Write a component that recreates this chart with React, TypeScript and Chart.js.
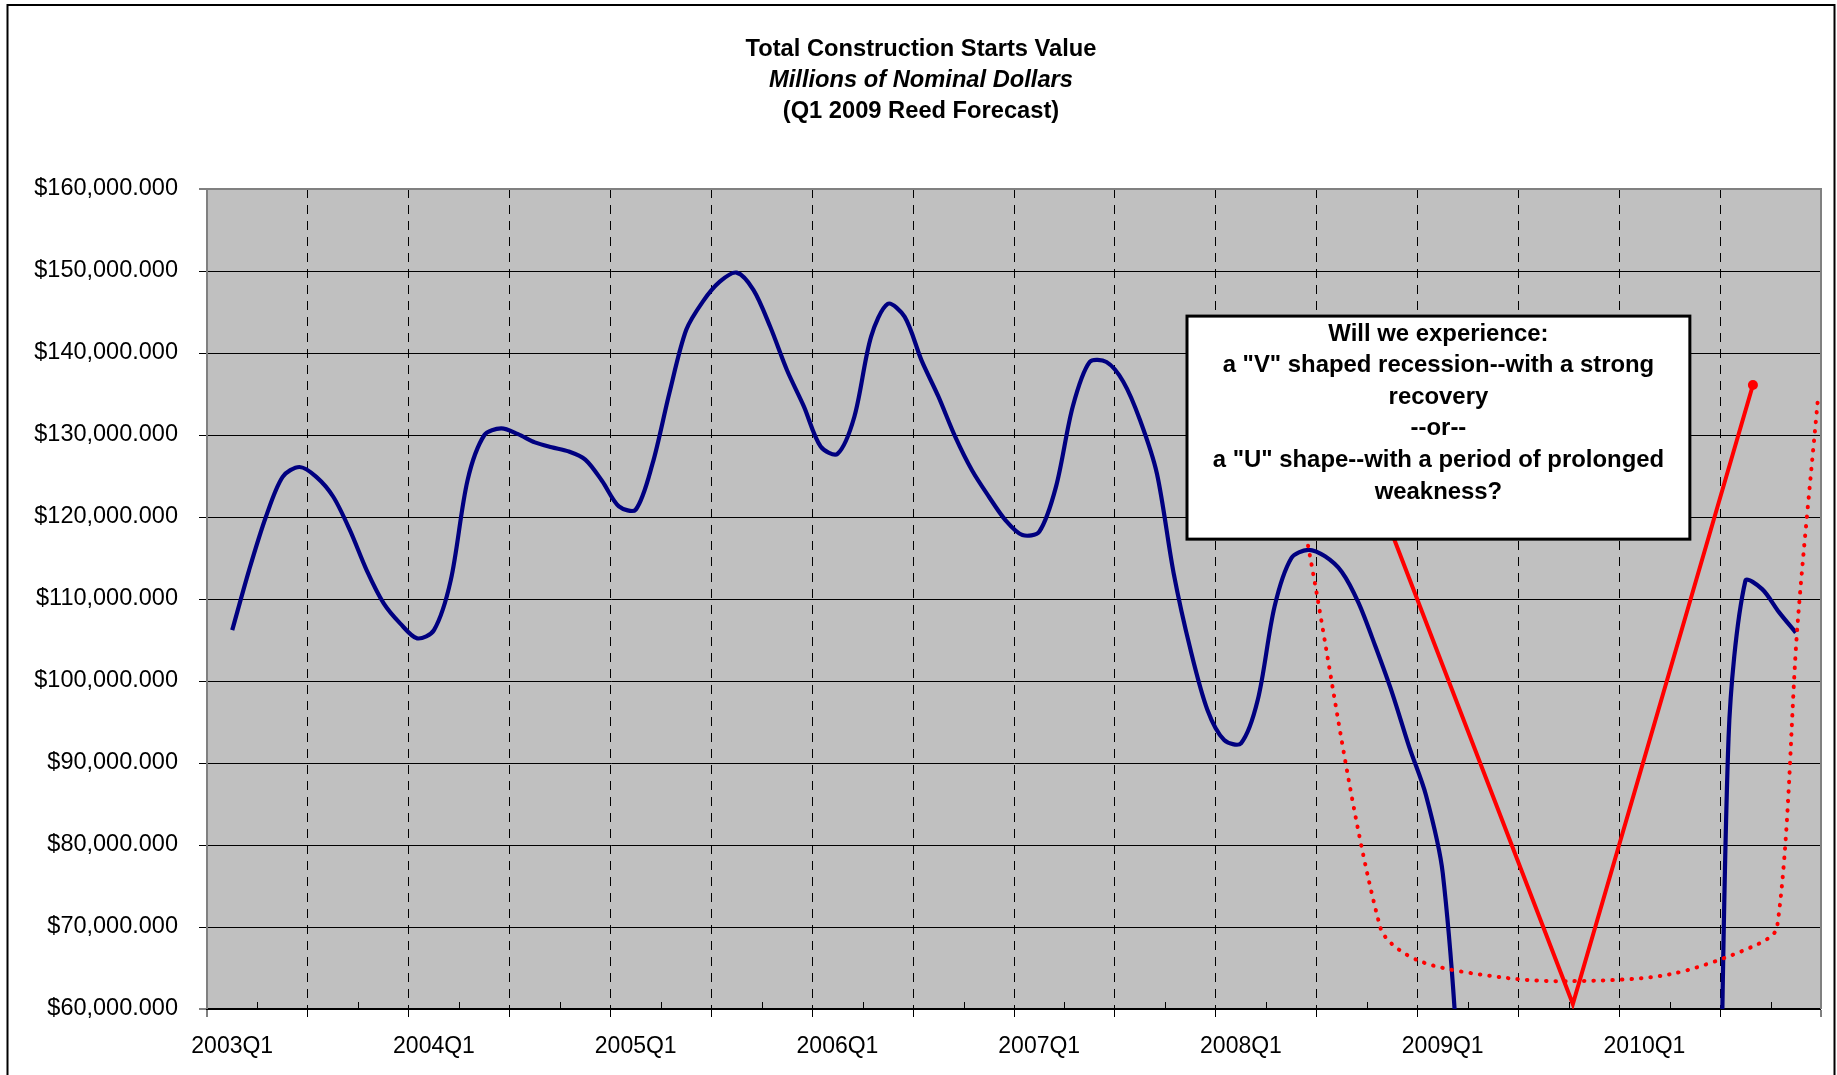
import React, { useEffect, useRef } from 'react';
import { Chart, registerables } from 'chart.js';

Chart.register(...registerables);

const FONT = "'Liberation Sans', Arial, Helvetica, sans-serif";

// ---- text ----
const titleLines = [
  'Total Construction Starts Value',
  'Millions of Nominal Dollars',
  '(Q1 2009 Reed Forecast)',
];
const noteLines = [
  'Will we experience:',
  'a "V" shaped recession--with a strong',
  'recovery',
  '--or--',
  'a "U" shape--with a period of prolonged',
  'weakness?',
];

// ---- x axis: quarters (32 quarter slots, 2003Q1 .. 2010Q4) ----
const quarterLabels = ['2003Q1', '2004Q1', '2005Q1', '2006Q1', '2007Q1', '2008Q1', '2009Q1', '2010Q1'];
const quarterCount = 32;

// ---- y axis (millions of nominal dollars) ----
const yMin = 60000;
const yMax = 160000;
const yStep = 10000;

// ---- monthly total construction starts value, Jan 2003 .. Oct 2010 (millions) ----
// months with no reported value (forecast gap) plunge below the axis floor
const blueValues = [
  106200, 113500, 120000, 124900, 126100, 124900, 122500, 118400, 113500, 109500, 107000, 105200,
  106200, 112300, 124500, 130000, 130800, 130100, 129100, 128500, 128000, 127000, 124400, 121300,
  120900, 126500, 135100, 142800, 146300, 148700, 149800, 147700, 143200, 137900, 133500, 128600,
  127700, 132200, 142000, 146000, 144400, 139100, 134700, 129800, 125700, 122500, 119600, 117800,
  118200, 123700, 133500, 138900, 138900, 136500, 131800, 125300, 113100, 103800, 96500, 92800,
  92400, 97700, 109100, 115000, 116000, 115200, 113300, 109500, 104200, 98500, 92000, 86100,
  76600, 50000, 0, 0, 0, 0, 0, 0, 0, 0, 0, 0, 0, 0, 0, 0,
  0, 93000, 112200, 111200, 108400, 105900,
];

// ---- "V" scenario (red solid), x in quarter units ----
const vShapeX = [22.0, 27.08, 30.65];
const vShapeY = [141900, 60600, 136100];

// ---- "U" scenario (red dotted), x in quarter units ----
const uShapeX = [21.83, 23.26, 24.02, 25.75, 27.08, 28.98, 30.64, 31.13, 31.54, 31.94];
const uShapeY = [116500, 70000, 65900, 63800, 63400, 64200, 67600, 70000, 107300, 134500];

// ---- annotation box corners in data units ----
const noteBox = { x0: 19.43, x1: 29.4, yTop: 144500, yBottom: 117300 };

function fmtMoney(v: number): string {
  const s = Math.round(v).toString().replace(/\B(?=(\d{3})+(?!\d))/g, ',');
  return '$' + s + '.000';
}

export default function App() {
  const ref = useRef<HTMLCanvasElement>(null);

  useEffect(() => {
    document.body.style.margin = '0';
    document.body.style.overflow = 'hidden';
    const canvas = ref.current;
    if (!canvas) return;

    const labelPos = quarterLabels.map((_, i) => 0.5 + 4 * i);
    const isEvenInt = (v: number) => Number.isInteger(v) && v % 2 === 0;

    const blueData = blueValues.map((v, m) => ({ x: 0.5 + m / 3, y: v }));
    const vData = vShapeX.map((x, i) => ({ x, y: vShapeY[i] }));
    const uData = uShapeX.map((x, i) => ({ x, y: uShapeY[i] }));

    const decor = {
      id: 'decor',
      beforeDraw(chart: any) {
        const { ctx, chartArea: a } = chart;
        ctx.save();
        ctx.fillStyle = '#ffffff';
        ctx.fillRect(0, 0, chart.width, chart.height);
        ctx.fillStyle = '#C0C0C0';
        ctx.fillRect(a.left, a.top, a.right - a.left, a.bottom - a.top);
        ctx.restore();
      },
      beforeDatasetsDraw(chart: any) {
        const { ctx, chartArea: a, scales } = chart;
        const x = scales.x;
        ctx.save();
        // minor (inside) tick marks at odd quarter boundaries
        ctx.strokeStyle = '#000';
        ctx.lineWidth = 1;
        for (let q = 1; q < quarterCount; q += 2) {
          const px = Math.round(x.getPixelForValue(q)) + 0.5;
          ctx.beginPath();
          ctx.moveTo(px, a.bottom);
          ctx.lineTo(px, a.bottom - 7);
          ctx.stroke();
        }
        // plot area border (top / right)
        ctx.strokeStyle = '#808080';
        ctx.lineWidth = 2;
        ctx.beginPath();
        ctx.moveTo(a.left, a.top);
        ctx.lineTo(a.right, a.top);
        ctx.lineTo(a.right, a.bottom);
        ctx.stroke();
        ctx.restore();
      },
      afterDraw(chart: any) {
        const { ctx, scales } = chart;
        const x = scales.x;
        const y = scales.y;
        ctx.save();
        // titles
        const cx = 921;
        ctx.fillStyle = '#000';
        ctx.textAlign = 'center';
        ctx.textBaseline = 'middle';
        ctx.font = `bold 23.7px ${FONT}`;
        ctx.fillText(titleLines[0], cx, 49);
        ctx.font = `italic bold 23.7px ${FONT}`;
        ctx.fillText(titleLines[1], cx, 80);
        ctx.font = `bold 23.7px ${FONT}`;
        ctx.fillText(titleLines[2], cx, 111);

        // annotation box
        const bx0 = x.getPixelForValue(noteBox.x0);
        const bx1 = x.getPixelForValue(noteBox.x1);
        const by0 = y.getPixelForValue(noteBox.yTop);
        const by1 = y.getPixelForValue(noteBox.yBottom);
        ctx.fillStyle = '#ffffff';
        ctx.fillRect(bx0, by0, bx1 - bx0, by1 - by0);
        ctx.strokeStyle = '#000';
        ctx.lineWidth = 3;
        ctx.strokeRect(bx0, by0, bx1 - bx0, by1 - by0);
        ctx.fillStyle = '#000';
        ctx.font = `bold 23.9px ${FONT}`;
        const bcx = (bx0 + bx1) / 2;
        noteLines.forEach((line, i) => {
          ctx.fillText(line, bcx, by0 + 18 + i * 31.6);
        });

        // outer chart frame
        ctx.strokeStyle = '#000';
        ctx.lineWidth = 2;
        ctx.strokeRect(7.5, 5, 1827, 1100);
        ctx.restore();
      },
    };

    const chart = new Chart(canvas, {
      type: 'line',
      data: {
        datasets: [
          {
            label: 'Total Construction Starts Value',
            data: blueData,
            borderColor: '#000080',
            borderWidth: 4.2,
            pointRadius: 0,
            tension: 0.3,
            fill: false,
            clip: 0,
            order: 3,
          },
          {
            label: 'V',
            data: vData,
            borderColor: '#FF0000',
            borderWidth: 4,
            tension: 0,
            pointRadius: (c: any) => (c.dataIndex === vData.length - 1 ? 5 : 0),
            pointBackgroundColor: '#FF0000',
            pointBorderColor: '#FF0000',
            pointBorderWidth: 0,
            fill: false,
            clip: 0,
            order: 1,
          },
          {
            label: 'U',
            data: uData,
            borderColor: '#FF0000',
            borderWidth: 4,
            borderDash: [0.5, 9],
            borderCapStyle: 'round',
            pointRadius: 0,
            tension: 0.3,
            fill: false,
            clip: { left: 0, top: 0, right: 6, bottom: 0 },
            order: 2,
          },
        ] as any,
      },
      options: {
        responsive: false,
        animation: false,
        devicePixelRatio: 1,
        layout: { padding: { top: 189, right: 16, bottom: 0, left: 0 } },
        elements: { line: { capBezierPoints: false } },
        plugins: {
          legend: { display: false },
          tooltip: { enabled: false },
          title: { display: false },
        },
        scales: {
          x: {
            type: 'linear',
            min: 0,
            max: quarterCount,
            afterBuildTicks: (scale: any) => {
              const vals: number[] = [];
              for (let i = 0; i <= quarterCount; i++) vals.push(i);
              labelPos.forEach((p) => vals.push(p));
              vals.sort((a, b) => a - b);
              scale.ticks = vals.map((v) => ({ value: v }));
            },
            afterFit: (scale: any) => {
              scale.height = 66;
            },
            ticks: {
              autoSkip: false,
              maxRotation: 0,
              minRotation: 0,
              padding: 16,
              color: '#000',
              font: { family: FONT, size: 23 },
              callback: (value: any) => {
                const i = labelPos.indexOf(Number(value));
                return i >= 0 ? quarterLabels[i] : '';
              },
            },
            grid: {
              color: '#000',
              lineWidth: (c: any) => {
                const v = c.tick?.value;
                return v !== undefined && isEvenInt(v) && v > 0 && v < quarterCount ? 1 : 0;
              },
              tickColor: '#000',
              tickWidth: (c: any) => {
                const v = c.tick?.value;
                return v !== undefined && isEvenInt(v) ? 1 : 0;
              },
              tickLength: 8,
            },
            border: {
              display: true,
              color: '#000',
              width: 2,
              dash: (c: any) => (c.type === 'tick' ? [9, 7] : []),
            },
          },
          y: {
            type: 'linear',
            min: yMin,
            max: yMax,
            afterFit: (scale: any) => {
              scale.width = 207;
            },
            ticks: {
              stepSize: yStep,
              padding: 21,
              color: '#000',
              font: { family: FONT, size: 23.5 },
              callback: (value: any) => fmtMoney(Number(value)),
            },
            grid: {
              color: '#000',
              lineWidth: (c: any) => {
                const v = c.tick?.value;
                return v === yMin || v === yMax ? 0 : 1;
              },
              tickColor: '#000',
              tickWidth: 1,
              tickLength: 8,
            },
            border: { display: true, color: '#808080', width: 2 },
          },
        },
      } as any,
      plugins: [decor],
    });

    return () => {
      chart.destroy();
    };
  }, []);

  return (
    <div style={{ position: 'absolute', left: 0, top: 0, width: 1837, height: 1075, background: '#fff' }}>
      <canvas ref={ref} width={1837} height={1075} style={{ display: 'block', width: 1837, height: 1075 }} />
    </div>
  );
}
